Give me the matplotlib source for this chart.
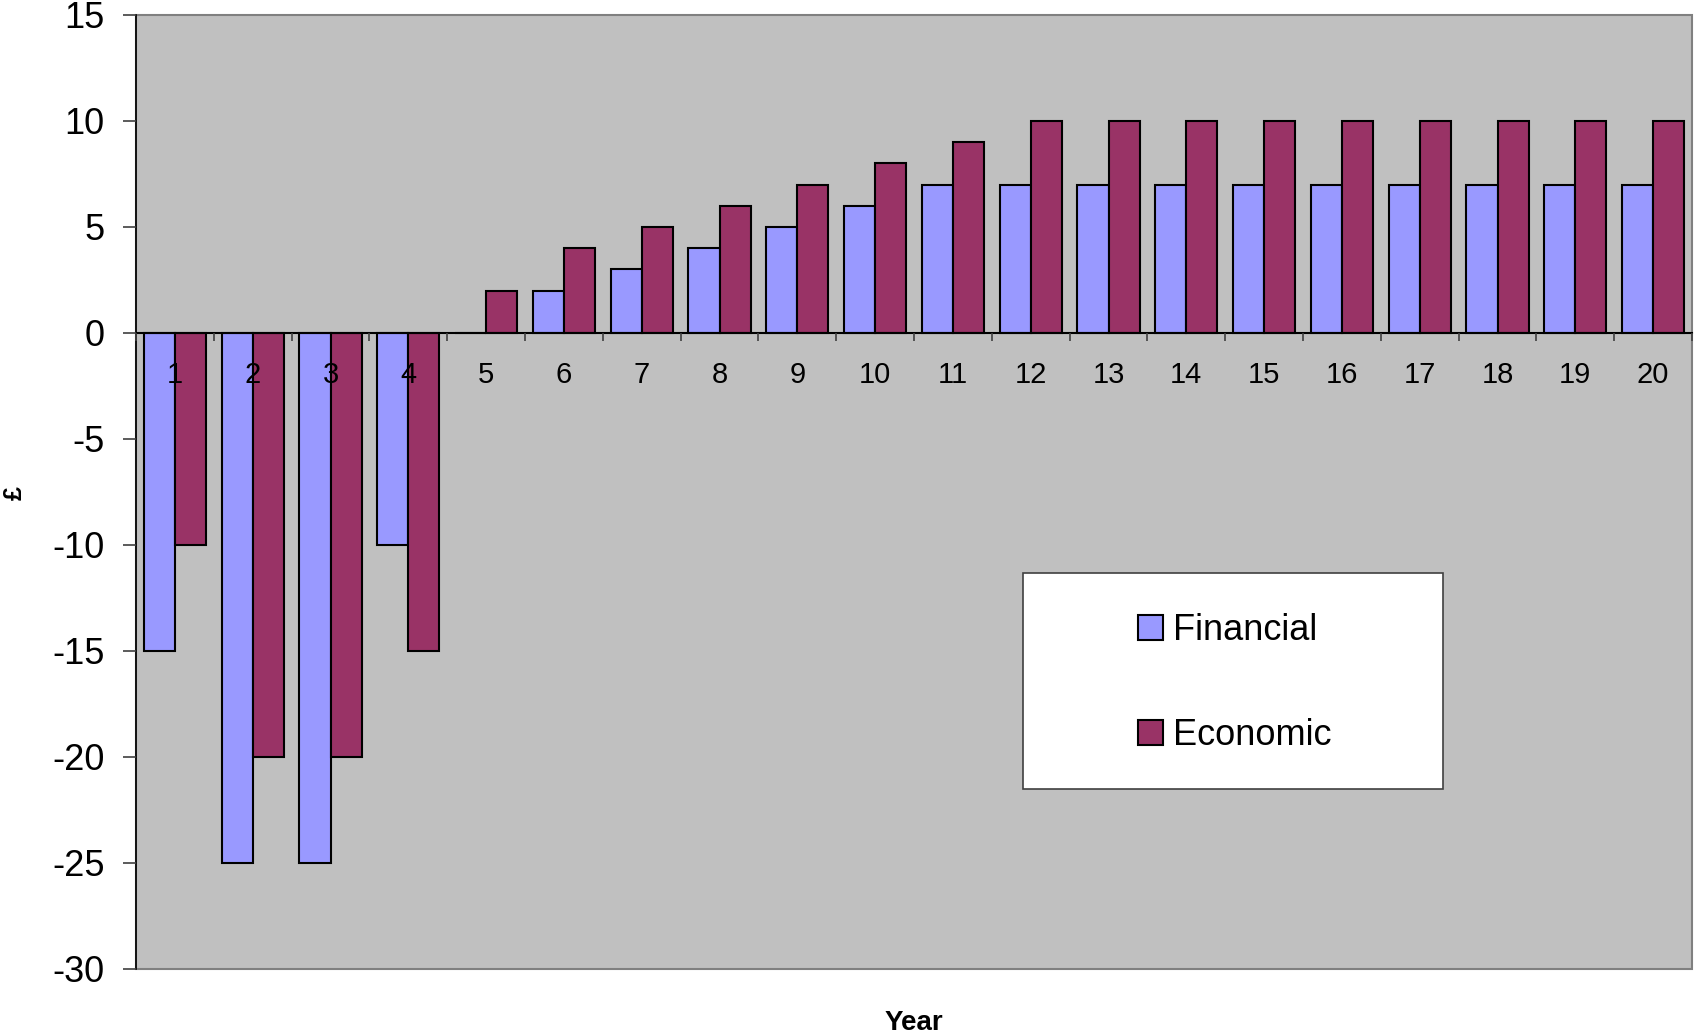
import numpy as np
import matplotlib
matplotlib.use("Agg")
import matplotlib.pyplot as plt
from matplotlib.patches import Rectangle

plt.rcParams["font.family"] = ["Liberation Sans", "DejaVu Sans"]

years = [str(y) for y in range(1, 21)]
financial = [-15, -25, -25, -10, 0, 2, 3, 4, 5, 6, 7, 7, 7, 7, 7, 7, 7, 7, 7, 7]
economic = [-10, -20, -20, -15, 2, 4, 5, 6, 7, 8, 9, 10, 10, 10, 10, 10, 10, 10, 10, 10]
y_ticks = [-30, -25, -20, -15, -10, -5, 0, 5, 10, 15]

W, H = 1696, 1036
fig = plt.figure(figsize=(W / 100, H / 100), dpi=100)
ax = fig.add_axes([136 / W, 1 - 969 / H, (1692 - 136) / W, (969 - 15) / H])

x = np.arange(len(years))
bw = 0.4
ax.bar(x - bw / 2, financial, bw, color="#9999FF", edgecolor="black", linewidth=1.5,
       label="Financial", zorder=1)
ax.bar(x + bw / 2, economic, bw, color="#993366", edgecolor="black", linewidth=1.5,
       label="Economic", zorder=1)
# axis (ticks, labels, zero line) is drawn over the bars
ax.set_axisbelow(False)

ax.set_xlim(-0.5, len(years) - 0.5)
ax.set_ylim(-30, 15)
ax.set_facecolor("#C0C0C0")
ax.patch.set_edgecolor("#808080")
ax.patch.set_linewidth(1.5)

# spines: left axis black, x axis sits on zero
for s in ("top", "right"):
    ax.spines[s].set_visible(False)
ax.spines["left"].set_color("black")
ax.spines["left"].set_linewidth(1.2)
ax.spines["bottom"].set_position(("data", 0))
ax.spines["bottom"].set_color("black")
ax.spines["bottom"].set_linewidth(1.5)

ax.set_yticks(y_ticks)
ax.set_yticklabels([str(v) for v in y_ticks], fontsize=26)
ax.tick_params(axis="y", direction="out", length=9.5, width=1.2, color="#404040", pad=13)

# category boundary ticks, labels centred in each category
ax.set_xticks(np.arange(len(years) + 1) - 0.5)
ax.set_xticklabels([])
ax.tick_params(axis="x", which="major", direction="out", length=6, width=1.2, color="#404040")
ax.set_xticks(x, minor=True)
ax.set_xticklabels(years, minor=True, fontsize=21)
ax.tick_params(axis="x", which="minor", length=0, pad=20.5)

fig.text(15 / W, 1 - 493 / H, "£", rotation=90, fontsize=18, fontweight="bold",
         ha="center", va="center")
fig.text(914 / W, 1 - 1023 / H, "Year", fontsize=20, fontweight="bold",
         ha="center", va="center")

# legend box
fig.patches.append(Rectangle((1023 / W, 1 - 789 / H), 420 / W, 216 / H,
                             transform=fig.transFigure, facecolor="white",
                             edgecolor="#404040", linewidth=1.2, zorder=5))
leg = fig.legend(loc="center", bbox_to_anchor=((1023 + 212) / W, 1 - 683 / H),
                 frameon=False, fontsize=26, handlelength=0.68, handleheight=0.68,
                 handletextpad=0.3, labelspacing=1.95)
leg.set_zorder(6)

fig.savefig("out.png", dpi=100)
